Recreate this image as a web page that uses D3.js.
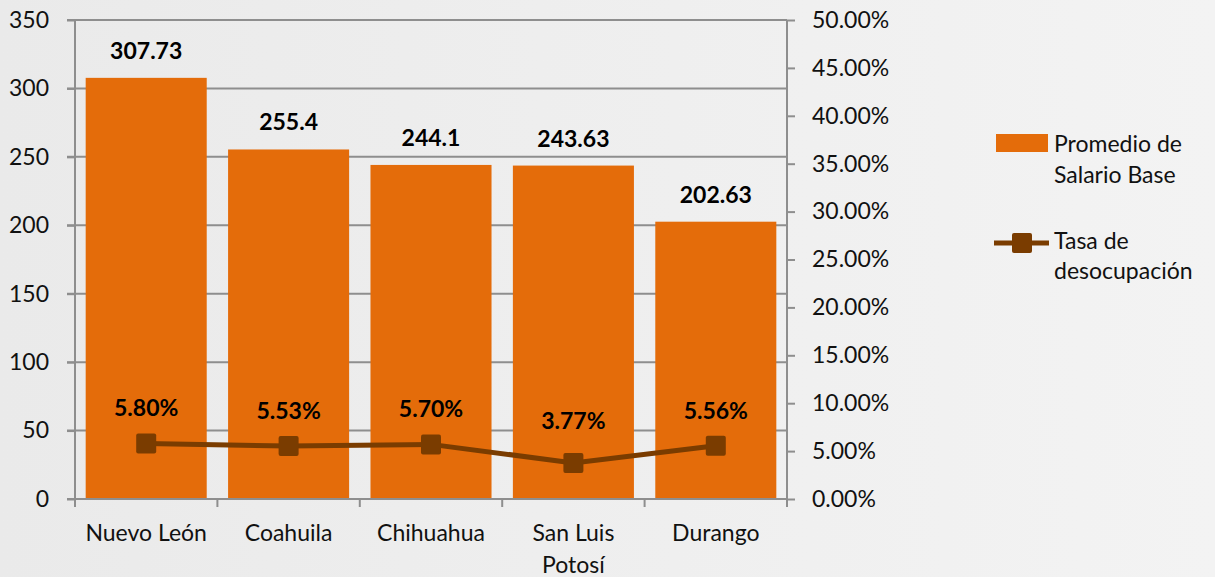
<!DOCTYPE html>
<html>
<head>
<meta charset="utf-8">
<script src="https://cdn.jsdelivr.net/npm/d3@7"></script>
<style>
  body { margin: 0; background: #ededed; }
  text { font-family: Lato, "Open Sans", sans-serif; }
</style>
</head>
<body>
<script>
// chart data
var states = ['Nuevo León', 'Coahuila', 'Chihuahua', 'San Luis Potosí', 'Durango'];
var salario = [307.73, 255.4, 244.1, 243.63, 202.63];
var desocupacion = [0.058, 0.0553, 0.057, 0.0377, 0.0556];
var left_ticks = [0, 50, 100, 150, 200, 250, 300, 350];
var right_ticks = [0, 0.05, 0.10, 0.15, 0.20, 0.25, 0.30, 0.35, 0.40, 0.45, 0.50];

var width = 1215, height = 577;
var x0 = 75, x1 = 787, y0 = 499, y1 = 20;
var fs = 23;
var bar_color = '#e46c0a', line_color = '#7a3c00', grid_color = '#8e8e8e';

var svg = d3.select('body').append('svg').attr('width', width).attr('height', height);
var grad = svg.append('defs').append('linearGradient').attr('id', 'bg')
  .attr('x1', 0).attr('x2', 1).attr('y1', 0).attr('y2', 0);
grad.append('stop').attr('offset', 0).attr('stop-color', '#eaeaea');
grad.append('stop').attr('offset', 1).attr('stop-color', '#f3f3f3');
svg.append('rect').attr('width', width).attr('height', height).attr('fill', 'url(#bg)');

var x_scale = d3.scaleBand().domain(states).range([x0, x1]).paddingInner(0.15).paddingOuter(0.075);
var y_scale = d3.scaleLinear().domain([0, 350]).range([y0, y1]);
var y2_scale = d3.scaleLinear().domain([0, 0.5]).range([y0, y1]);
var cx = d => x_scale(d) + x_scale.bandwidth() / 2;

// gridlines
svg.append('g').selectAll('line').data(left_ticks.slice(1)).enter().append('line')
  .attr('x1', x0 - 8).attr('x2', x1).attr('y1', d => y_scale(d)).attr('y2', d => y_scale(d))
  .attr('stroke', grid_color).attr('stroke-width', 2);

// left axis
var left_axis = svg.append('g').attr('transform', 'translate(' + x0 + ',0)')
  .call(d3.axisLeft(y_scale).tickValues(left_ticks).tickSize(8).tickPadding(18));
// right axis
var right_axis = svg.append('g').attr('transform', 'translate(' + x1 + ',0)')
  .call(d3.axisRight(y2_scale).tickValues(right_ticks).tickSize(8).tickPadding(17).tickFormat(d3.format('.2%')));
[left_axis, right_axis].forEach(function(a) {
  a.select('.domain').attr('stroke', grid_color).attr('stroke-width', 2);
  a.selectAll('.tick line').attr('stroke', grid_color).attr('stroke-width', 2);
  a.selectAll('text').attr('font-size', fs).attr('fill', '#111').style('font-family', 'Lato, "Open Sans", sans-serif');
});
left_axis.select('.domain').attr('d', 'M0,' + y1 + 'V' + (y0 + 8));
right_axis.select('.domain').attr('d', 'M0,' + y1 + 'V' + (y0 + 8));

// bars
svg.append('g').selectAll('rect').data(states).enter().append('rect')
  .attr('x', d => x_scale(d)).attr('width', x_scale.bandwidth())
  .attr('y', (d, i) => y_scale(salario[i])).attr('height', (d, i) => y0 - y_scale(salario[i]))
  .attr('fill', bar_color);

// bottom axis line and category ticks
svg.append('line').attr('x1', x0 - 8).attr('x2', x1).attr('y1', y0).attr('y2', y0)
  .attr('stroke', grid_color).attr('stroke-width', 2);
svg.append('g').selectAll('line').data(d3.range(states.length + 1)).enter().append('line')
  .attr('x1', i => x0 + i * (x1 - x0) / states.length).attr('x2', i => x0 + i * (x1 - x0) / states.length)
  .attr('y1', y0).attr('y2', y0 + 8).attr('stroke', grid_color).attr('stroke-width', 2);

// category labels (wrap San Luis Potosí)
var cat_lines = [['Nuevo León'], ['Coahuila'], ['Chihuahua'], ['San Luis', 'Potosí'], ['Durango']];
svg.append('g').selectAll('text').data(states).enter().append('text')
  .attr('x', cx).attr('y', 541)
  .attr('text-anchor', 'middle').attr('font-size', fs).attr('fill', '#111')
  .each(function(d, i) {
    var t = d3.select(this);
    cat_lines[i].forEach(function(l, j) {
      t.append('tspan').attr('x', cx(d)).attr('dy', j == 0 ? 0 : 32).text(l);
    });
  });

// bar value labels
svg.append('g').selectAll('text').data(states).enter().append('text')
  .attr('x', cx).attr('y', (d, i) => y_scale(salario[i]) - 19)
  .attr('text-anchor', 'middle').attr('font-size', fs).attr('font-weight', 'bold').attr('fill', '#000')
  .text((d, i) => String(salario[i]));

// line
var line = d3.line().x(cx).y((d, i) => y2_scale(desocupacion[i]));
svg.append('path').datum(states).attr('d', line).attr('fill', 'none')
  .attr('stroke', line_color).attr('stroke-width', 5);
svg.append('g').selectAll('rect').data(states).enter().append('rect')
  .attr('x', d => cx(d) - 10).attr('y', (d, i) => y2_scale(desocupacion[i]) - 10)
  .attr('width', 20).attr('height', 20).attr('rx', 2).attr('fill', line_color);

// line value labels (the low point's label sits a little higher, like in Excel)
svg.append('g').selectAll('text').data(states).enter().append('text')
  .attr('x', cx).attr('y', (d, i) => y2_scale(desocupacion[i]) - (desocupacion[i] < 0.05 ? 34 : 27))
  .attr('text-anchor', 'middle').attr('font-size', fs).attr('font-weight', 'bold').attr('fill', '#000')
  .text((d, i) => d3.format('.2%')(desocupacion[i]));

// legend
var lg = svg.append('g');
lg.append('rect').attr('x', 996).attr('y', 134).attr('width', 52).attr('height', 18).attr('fill', bar_color);
lg.append('text').attr('x', 1054).attr('y', 152).attr('font-size', fs).attr('fill', '#111')
  .selectAll('tspan').data(['Promedio de', 'Salario Base']).enter().append('tspan')
  .attr('x', 1054).attr('dy', (d, i) => i == 0 ? 0 : 31).text(d => d);
lg.append('line').attr('x1', 994).attr('x2', 1049).attr('y1', 243).attr('y2', 243)
  .attr('stroke', line_color).attr('stroke-width', 5);
lg.append('rect').attr('x', 1012).attr('y', 233).attr('width', 20).attr('height', 20).attr('rx', 2).attr('fill', line_color);
lg.append('text').attr('x', 1054).attr('y', 249).attr('font-size', fs).attr('fill', '#111')
  .selectAll('tspan').data(['Tasa de', 'desocupación']).enter().append('tspan')
  .attr('x', 1054).attr('dy', (d, i) => i == 0 ? 0 : 30).text(d => d);
</script>
</body>
</html>
